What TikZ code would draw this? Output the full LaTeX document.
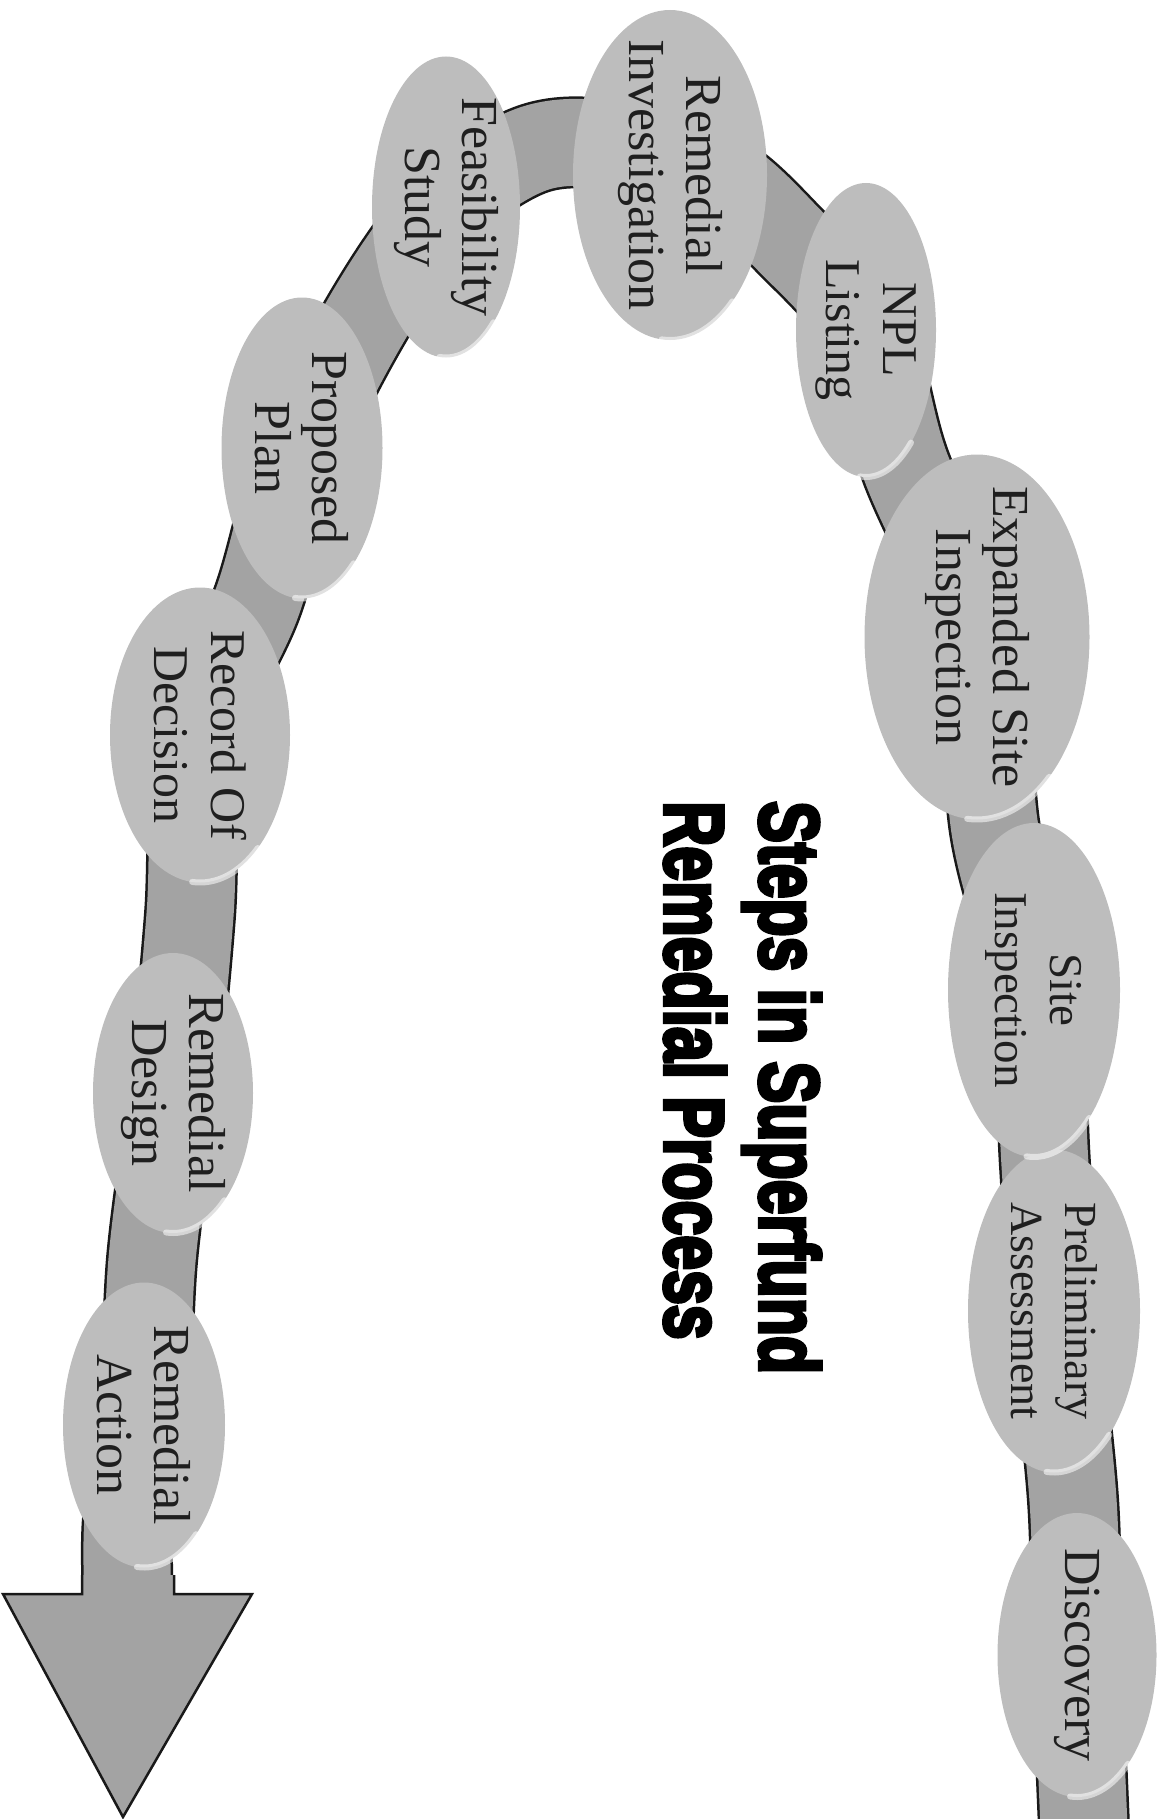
\documentclass[tikz,border=0pt]{standalone}
\usepackage{fontspec}
\setmainfont{Liberation Serif}
\newfontfamily\titlefont[BoldFeatures={FakeBold=5}]{Liberation Sans}
\usetikzlibrary{shapes.geometric,backgrounds}
\definecolor{ellfill}{gray}{0.74}
\definecolor{bandfill}{gray}{0.64}
\definecolor{inkc}{gray}{0.12}
\definecolor{edgec}{gray}{0.10}
\newcommand\stagenode[6][]{%
  \node[stage, minimum width=#4pt, minimum height=#5pt] (#2) at #3 {};
  \node[stagetext,#1] (#2-t) at (#2.center) {#6};
  \draw[hilite] (#2.center) ++(50:#5/2 and #4/2) arc[start angle=50, end angle=95, x radius=#5/2, y radius=#4/2];
}
\begin{document}
\begin{tikzpicture}[x=1pt,y=-1pt,
  stage/.style={ellipse, fill=ellfill, rotate=-90, inner sep=0pt},
  stagetext/.style={rotate=-90, inner sep=0pt, align=center, text=inkc, font=\fontsize{52}{57}\selectfont},
  hilite/.style={draw=white, opacity=0.55, line width=6pt, line cap=round},
  titleline/.style={rotate=-90, inner sep=0pt, anchor=base west, text=black, font=\titlefont\bfseries\fontsize{84}{84}\selectfont},
  bandout/.style={line width=92pt, draw=edgec, line join=round},
  bandin/.style={line width=87pt, draw=bandfill, line join=round},
  arrowhd/.style={fill=bandfill, draw=edgec, line width=2.5pt, line join=miter}
]
\useasboundingbox (0,0) rectangle (1168,1819);
\clip (0,0) rectangle (1168,1819);

% stages: name, position, length (vertical), width (horizontal), text
\stagenode{disc}{(1077,1655)}{284}{159}{Discovery}
\stagenode[font=\fontsize{46}{54}\selectfont]{pa}{(1054,1311)}{323}{172}{Preliminary\\Assessment}
\stagenode[font=\fontsize{47}{55}\selectfont]{si}{(1034,990)}{334}{172}{Site\\Inspection}
\stagenode{esi}{(977,637)}{365}{225}{Expanded Site\\Inspection}
\stagenode[font=\fontsize{50}{57}\selectfont]{npl}{(866,330)}{294}{140}{NPL\\Listing}
\stagenode{ri}{(670,175)}{330}{194}{Remedial\\Investigation}
\stagenode{fs}{(446,207)}{301}{148}{Feasibility\\Study}
\stagenode{pp}{(302,448)}{301}{161}{Proposed\\Plan}
\stagenode[font=\fontsize{50}{57}\selectfont]{rod}{(200,735)}{295}{180}{Record Of\\Decision}
\stagenode{rd}{(173,1093)}{280}{160}{Remedial\\Design}
\stagenode{ra}{(144,1425)}{285}{162}{Remedial\\Action}

% band waypoints
\coordinate (b0) at (1085,1850);
\coordinate (b1) at (1073,1500);
\coordinate (b2) at (1045,1165);
\coordinate (b3) at (995,830);
\coordinate (b4) at (905,465);
\coordinate (b5) at (789,240);
\coordinate (b6) at (715,175);
\coordinate (b7) at (610,145);
\coordinate (b8) at (530,150);
\coordinate (b9) at (372,310);
\coordinate (b10) at (258,600);
\coordinate (b11) at (190,915);
\coordinate (b12) at (152,1260);
\coordinate (b13) at (128,1520);
\coordinate (b14) at (128,1600);

\begin{scope}[on background layer]
  \draw[bandout] plot[smooth, tension=0.55] coordinates {(b0) (disc.center) (b1) (pa.center) (b2) (si.center) (b3) (esi.center) (b4) (npl.center) (b5) (b6) (b7) (b8) (fs.center) (b9) (pp.center) (b10) (rod.center) (b11) (rd.center) (b12) (ra.center) (b13) (b14)};
  \draw[bandin] plot[smooth, tension=0.55] coordinates {(b0) (disc.center) (b1) (pa.center) (b2) (si.center) (b3) (esi.center) (b4) (npl.center) (b5) (b6) (b7) (b8) (fs.center) (b9) (pp.center) (b10) (rod.center) (b11) (rd.center) (b12) (ra.center) (b13) (b14)};
\end{scope}

% arrow head
\coordinate (aL) at (82,1575);
\coordinate (aR) at (174,1575);
\coordinate (hL) at (3,1594);
\coordinate (hR) at (252,1594);
\coordinate (tip) at (123,1817);
\draw[arrowhd] (aL) -- (aL |- hL) -- (hL) -- (tip) -- (hR) -- (aR |- hR) -- (aR);

% title
\node[titleline] (t1) at (760,801) {\scalebox{0.744}[1]{Steps in Superfund}};
\node[titleline] (t2) at (665,801) {\scalebox{0.744}[1]{Remedial Process}};
\end{tikzpicture}
\end{document}
